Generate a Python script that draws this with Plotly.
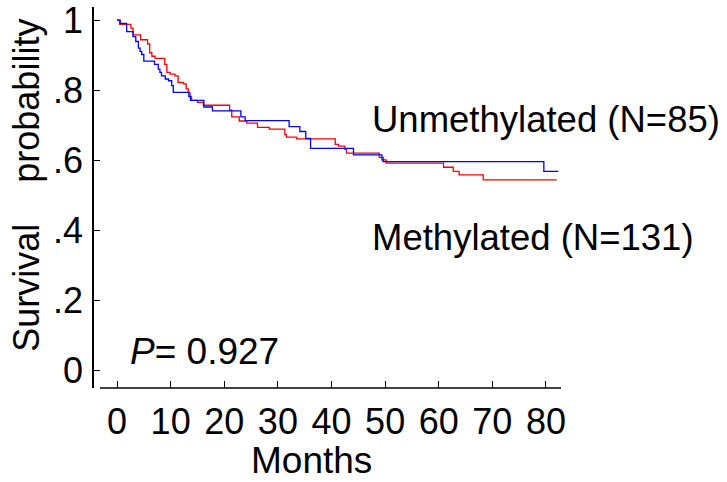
import plotly.graph_objects as go

# Kaplan-Meier steps (months, survival after each step)
unmeth_months = [0, 0.6, 1.8, 3.0, 3.5, 4.0, 4.3, 4.6, 5.0, 7.0, 7.7, 8.0, 8.3, 9.0, 9.6,
                 10.2, 10.5, 13.4, 13.7, 16.2, 17.8, 23.1, 23.9, 32.1, 34.1, 35.2, 36.1,
                 44.1, 49.4, 49.6, 79.6, 82.3]
unmeth_surv = [1.0, 0.991, 0.967, 0.953, 0.939, 0.920, 0.911, 0.902, 0.883, 0.874, 0.860,
               0.851, 0.841, 0.832, 0.827, 0.813, 0.794, 0.782, 0.771, 0.752, 0.741, 0.724,
               0.713, 0.696, 0.682, 0.662, 0.634, 0.615, 0.601, 0.596, 0.568, 0.568]

meth_months = [0, 0.5, 2.6, 3.0, 4.4, 5.7, 6.1, 6.5, 7.1, 8.9, 9.3, 9.9, 10.8, 11.4, 12.4,
               12.9, 13.3, 13.6, 13.9, 15.0, 16.1, 21.0, 21.4, 22.8, 24.2, 26.2, 28.4, 31.3,
               31.6, 33.5, 40.7, 41.3, 42.5, 42.8, 48.9, 49.7, 50.2, 60.9, 62.7, 63.8, 68.3,
               82.0]
meth_surv = [1.0, 0.988, 0.977, 0.958, 0.944, 0.932, 0.907, 0.897, 0.891, 0.874, 0.851,
             0.846, 0.841, 0.822, 0.818, 0.804, 0.794, 0.782, 0.771, 0.765, 0.757, 0.743,
             0.724, 0.712, 0.706, 0.694, 0.689, 0.673, 0.666, 0.661, 0.645, 0.640, 0.631,
             0.620, 0.608, 0.601, 0.592, 0.580, 0.568, 0.558, 0.544, 0.544]

x_ticks = [0, 10, 20, 30, 40, 50, 60, 70, 80]
y_ticks = [0, 0.2, 0.4, 0.6, 0.8, 1.0]
y_tick_labels = ["0", ".2", ".4", ".6", ".8", "1"]

label_unmeth = "Unmethylated (N=85)"
label_meth = "Methylated (N=131)"
p_text = "<i>P</i>= 0.927"

FONT = "Arial, Liberation Sans, sans-serif"

fig = go.Figure()
fig.add_trace(go.Scatter(x=meth_months, y=meth_surv, mode="lines", line_shape="hv",
                         line=dict(color="#FF0000", width=1.3), name=label_meth))
fig.add_trace(go.Scatter(x=unmeth_months, y=unmeth_surv, mode="lines", line_shape="hv",
                         line=dict(color="#0000FF", width=1.3), name=label_unmeth))

fig.update_layout(
    width=727, height=482,
    margin=dict(l=94, r=166, t=0, b=94),
    paper_bgcolor="white", plot_bgcolor="white",
    showlegend=False,
    font=dict(family=FONT, size=36, color="black"),
    xaxis=dict(range=[-4.29, 82.8], tickvals=x_ticks, ticks="inside", ticklen=7,
               tickcolor="black", tickwidth=1, showline=False, showgrid=False,
               zeroline=False, tickfont=dict(size=36), ticklabelstandoff=9,
               ticklabeloverflow="allow"),
    yaxis=dict(range=[-0.0505, 1.0376], tickvals=y_ticks, ticktext=y_tick_labels,
               ticks="inside", ticklen=6, tickcolor="black", tickwidth=1,
               showline=True, linecolor="black", linewidth=1.5, showgrid=False,
               zeroline=False, tickfont=dict(size=36), ticklabelstandoff=2,
               ticklabeloverflow="allow"),
    shapes=[dict(type="line", xref="paper", yref="paper", x0=0.0128, x1=1.0, y0=0, y1=0,
                 line=dict(color="black", width=1.5))],
)

def ann(text, x, y, size=36, xanchor="center", textangle=0):
    fig.add_annotation(text=text, x=x, y=y, xref="paper", yref="paper", showarrow=False,
                       xanchor=xanchor, yanchor="middle", textangle=textangle,
                       font=dict(family=FONT, size=size, color="black"))

ann(label_unmeth, 0.590, 0.7036, size=36.5, xanchor="left")
ann(label_meth, 0.590, 0.394, size=36.5, xanchor="left")
ann(p_text, 0.0728, 0.0954, size=37, xanchor="left")
ann("Survival", -0.1435, 0.263, textangle=-90)
ann("probability", -0.1435, 0.754, textangle=-90)
ann("Months", 0.4647, -0.1907, size=37)

fig.write_html("out.html", config={"displayModeBar": False},
               post_script="document.body.style.margin='0';")
